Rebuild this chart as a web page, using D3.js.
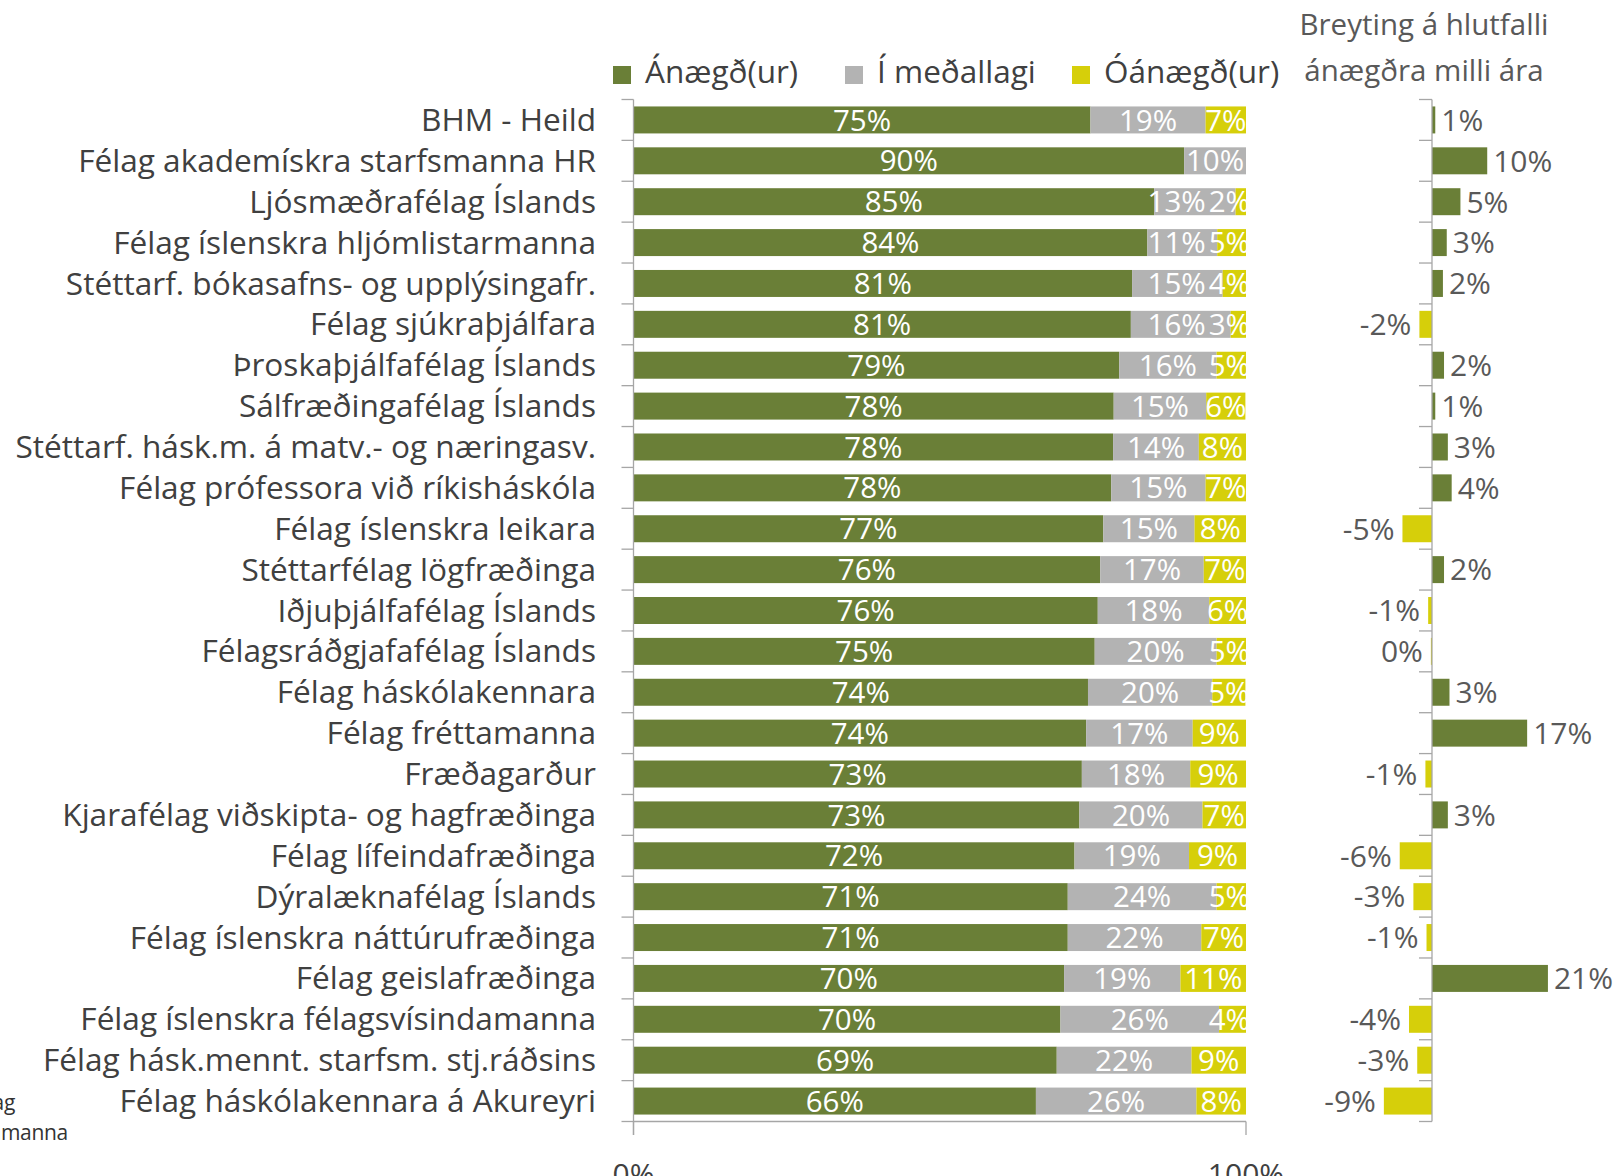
<!DOCTYPE html>
<html>
<head>
<meta charset="utf-8">
<script src="https://cdn.jsdelivr.net/npm/d3@7"></script>
<style>
  html, body { margin: 0; padding: 0; background: #fff; }
  svg { display: block; }
  text { font-family: "Open Sans", "Noto Sans", sans-serif; }
</style>
</head>
<body>
<svg id="chart" width="1620" height="1176"></svg>
<script>
// ---------------- DATA ----------------
const categories = [
  "BHM - Heild",
  "Félag akademískra starfsmanna HR",
  "Ljósmæðrafélag Íslands",
  "Félag íslenskra hljómlistarmanna",
  "Stéttarf. bókasafns- og upplýsingafr.",
  "Félag sjúkraþjálfara",
  "Þroskaþjálfafélag Íslands",
  "Sálfræðingafélag Íslands",
  "Stéttarf. hásk.m. á matv.- og næringasv.",
  "Félag prófessora við ríkisháskóla",
  "Félag íslenskra leikara",
  "Stéttarfélag lögfræðinga",
  "Iðjuþjálfafélag Íslands",
  "Félagsráðgjafafélag Íslands",
  "Félag háskólakennara",
  "Félag fréttamanna",
  "Fræðagarður",
  "Kjarafélag viðskipta- og hagfræðinga",
  "Félag lífeindafræðinga",
  "Dýralæknafélag Íslands",
  "Félag íslenskra náttúrufræðinga",
  "Félag geislafræðinga",
  "Félag íslenskra félagsvísindamanna",
  "Félag hásk.mennt. starfsm. stj.ráðsins",
  "Félag háskólakennara á Akureyri"
];
const seriesNames = ["Ánægð(ur)", "Í meðallagi", "Óánægð(ur)"];
const satisfied    = [74.6, 89.9, 85.0, 83.9, 81.4, 81.2, 79.3, 78.4, 78.3, 78.0, 76.7, 76.2, 75.8, 75.3, 74.2, 73.9, 73.2, 72.8, 72.0, 70.9, 70.9, 70.3, 69.7, 69.1, 65.7];
const neutral      = [18.8, 10.1, 13.3, 11.4, 14.8, 16.3, 15.9, 15.1, 14.0, 15.4, 14.9, 16.9, 18.2, 19.9, 20.3, 17.4, 17.7, 20.1, 18.7, 24.3, 21.8, 19.0, 25.9, 22.0, 26.2];
const dissatisfied = [6.6, 0, 1.7, 4.7, 3.8, 2.5, 4.8, 6.4, 7.7, 6.6, 8.4, 6.9, 6.0, 4.8, 5.4, 8.7, 9.1, 7.1, 9.3, 4.8, 7.3, 10.7, 4.4, 8.9, 8.1];
const changeSatisfied = [0.6, 10.1, 5.2, 2.7, 2.0, -2.3, 2.2, 0.6, 2.9, 3.6, -5.4, 2.2, -0.7, -0.2, 3.2, 17.4, -1.2, 2.9, -5.9, -3.4, -1.0, 21.2, -4.2, -2.7, -8.8];
const xTickValues = [0, 100];
const rightTitle = ["Breyting á hlutfalli", "ánægðra milli ára"];
const logoLines = ["Bandalag", "háskólamanna"];

// ---------------- STYLE ----------------
const colors = ["#6a7f37", "#b3b3b3", "#d6cf0a"];
const axisColor = "#a6a6a6";
const textColor = "#404040";
const fmtPct = v => `${Math.round(v)}%`;

const svg = d3.select("#chart");

// scales
const y = d3.scaleBand().domain(categories).range([99.5, 1121.5]).paddingInner(0.34).paddingOuter(0.17);
const x = d3.scaleLinear().domain([0, 100]).range([633.5, 1246]);
const xc = d3.scaleLinear().domain([-10, 22]).range([1377.3, 1552.3]);
const step = y.step();
const boundaries = d3.range(categories.length + 1).map(i => y.range()[0] + i * step);

// ---------------- LEFT PANEL ----------------
const stackData = categories.map((c, i) => ({cat: c, s0: satisfied[i], s1: neutral[i], s2: dissatisfied[i]}));
const stack = d3.stack().keys(["s0", "s1", "s2"]);
const layers = stack(stackData);

const gBars = svg.append("g");
layers.forEach((layer, li) => {
  gBars.selectAll(null).data(layer).join("rect")
    .attr("x", d => x(d[0]))
    .attr("y", d => y(d.data.cat))
    .attr("width", d => Math.max(0, x(d[1]) - x(d[0])))
    .attr("height", y.bandwidth())
    .attr("fill", colors[li]);
});

// value labels (clipped to plot area, nudged to avoid overlap)
svg.append("clipPath").attr("id", "plotclip").append("rect")
  .attr("x", x(0)).attr("y", 0).attr("width", x(100) - x(0)).attr("height", 1176);
const gLab = svg.append("g").attr("clip-path", "url(#plotclip)");
stackData.forEach((row, ri) => {
  const segs = [];
  layers.forEach((layer, li) => {
    const d = layer[ri];
    const v = d[1] - d[0];
    if (v <= 0.05) return;
    const t = gLab.append("text")
      .attr("text-anchor", "middle")
      .attr("y", y(row.cat) + y.bandwidth() / 2)
      .attr("dy", "0.36em")
      .attr("fill", "#ffffff")
      .style("font-size", "29.5px")
      .text(fmtPct(v));
    const w = t.node().getComputedTextLength();
    segs.push({t, w, c: (x(d[0]) + x(d[1])) / 2});
  });
  const n = segs.length;
  const last = segs[n - 1];
  const maxRight = x(100) + 4;
  if (last.c + last.w / 2 > maxRight) last.c = maxRight - last.w / 2;
  for (let i = n - 2; i >= 0; i--) {
    const limit = segs[i + 1].c - segs[i + 1].w / 2 - 3;
    if (segs[i].c + segs[i].w / 2 > limit) segs[i].c = limit - segs[i].w / 2;
  }
  segs.forEach(s => s.t.attr("x", s.c));
});

// category labels
svg.append("g").selectAll("text").data(categories).join("text")
  .attr("x", 596)
  .attr("y", d => y(d) + y.bandwidth() / 2)
  .attr("dy", "0.35em")
  .attr("text-anchor", "end")
  .attr("fill", textColor)
  .style("font-size", "31.6px")
  .text(d => d);

// left axis
const gAx = svg.append("g").attr("stroke", axisColor).attr("stroke-width", 1.3);
gAx.append("line").attr("x1", x(0)).attr("x2", x(0)).attr("y1", boundaries[0]).attr("y2", boundaries[boundaries.length - 1] + 13.5);
gAx.selectAll(".ct").data(boundaries).join("line")
  .attr("x1", x(0) - 12).attr("x2", x(0)).attr("y1", d => d).attr("y2", d => d);
// bottom axis
const yb = boundaries[boundaries.length - 1];
gAx.append("line").attr("x1", x(0)).attr("x2", x(100)).attr("y1", yb).attr("y2", yb);
gAx.selectAll(".bt").data(xTickValues).join("line")
  .attr("x1", d => x(d)).attr("x2", d => x(d)).attr("y1", yb).attr("y2", yb + 13.5);
svg.append("g").selectAll("text").data(xTickValues).join("text")
  .attr("x", d => x(d)).attr("y", 1185)
  .attr("text-anchor", "middle")
  .attr("fill", textColor)
  .style("font-size", "30px")
  .text(d => d + "%");

// legend
const legendX = [613, 845, 1072];
const gLeg = svg.append("g");
seriesNames.forEach((name, i) => {
  gLeg.append("rect").attr("x", legendX[i]).attr("y", 66).attr("width", 18).attr("height", 18).attr("fill", colors[i]);
  gLeg.append("text").attr("x", legendX[i] + 32).attr("y", 83)
    .attr("fill", textColor).style("font-size", "31.5px").text(name);
});

// ---------------- RIGHT PANEL ----------------
const gR = svg.append("g");
gR.selectAll("rect").data(changeSatisfied).join("rect")
  .attr("x", d => Math.min(xc(0), xc(d)))
  .attr("y", (d, i) => y(categories[i]))
  .attr("width", d => Math.abs(xc(d) - xc(0)))
  .attr("height", y.bandwidth())
  .attr("fill", d => d >= 0 ? colors[0] : colors[2]);
gR.selectAll("text").data(changeSatisfied).join("text")
  .attr("x", d => d >= 0 ? xc(d) + 6 : xc(d) - 8)
  .attr("y", (d, i) => y(categories[i]) + y.bandwidth() / 2)
  .attr("dy", "0.36em")
  .attr("text-anchor", d => d >= 0 ? "start" : "end")
  .attr("fill", "#595959")
  .style("font-size", "30px")
  .text(fmtPct);
const gAxR = svg.append("g").attr("stroke", axisColor).attr("stroke-width", 1.3);
gAxR.append("line").attr("x1", xc(0)).attr("x2", xc(0)).attr("y1", boundaries[0]).attr("y2", yb);
gAxR.selectAll("line.t").data(boundaries).join("line")
  .attr("x1", xc(0) - 13).attr("x2", xc(0)).attr("y1", d => d).attr("y2", d => d);

svg.append("g").selectAll("text").data(rightTitle).join("text")
  .attr("x", 1424).attr("y", (d, i) => 35 + i * 46)
  .attr("text-anchor", "middle")
  .attr("fill", "#595959")
  .style("font-size", "29.5px")
  .text(d => d);

// logo fragment (cut off at the left edge)
svg.append("g").selectAll("text").data(logoLines).join("text")
  .attr("x", (d, i) => i === 0 ? 15 : 68)
  .attr("y", (d, i) => i === 0 ? 1110 : 1140)
  .attr("text-anchor", "end")
  .attr("fill", "#333")
  .style("font-size", "21px")
  .style("letter-spacing", "-0.3px")
  .text(d => d);
</script>
</body>
</html>
